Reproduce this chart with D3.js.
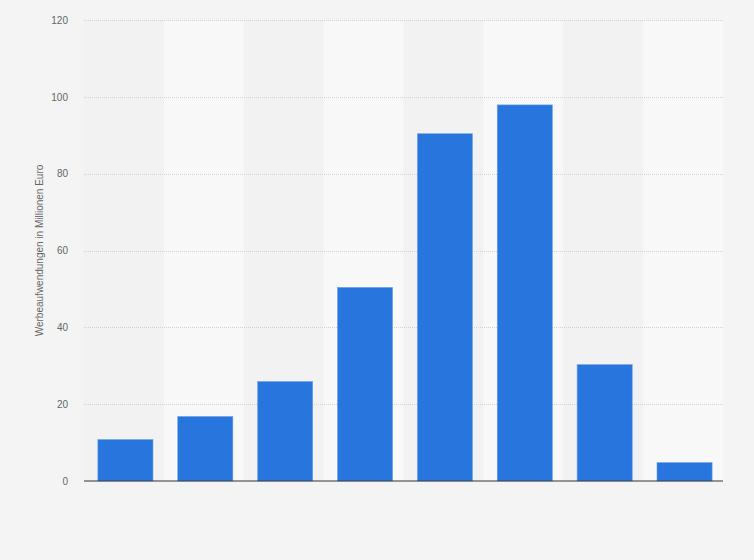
<!DOCTYPE html>
<html>
<head>
<meta charset="utf-8">
<script src="https://cdn.jsdelivr.net/npm/d3@7"></script>
<style>
  html, body { margin: 0; padding: 0; background: #f4f4f4; }
  svg { display: block; font-family: "Liberation Sans", Arial, sans-serif; }
</style>
</head>
<body>
<svg id="chart" width="754" height="560"></svg>
<script>
// one value per bar (Millionen Euro)
const categories = ['1', '2', '3', '4', '5', '6', '7', '8']
const values = [10.8, 16.8, 25.9, 50.4, 90.4, 97.9, 30.3, 4.8]
const yTicks = [0, 20, 40, 60, 80, 100, 120]
const yTitle = 'Werbeaufwendungen in Millionen Euro'

const width = 754
const height = 560
const margin = { top: 20, right: 31, bottom: 79, left: 84 }

const svg = d3.select('#chart')

svg.append('rect')
  .attr('width', width)
  .attr('height', height)
  .attr('fill', '#f4f4f4')

const x = d3.scaleBand()
  .domain(categories)
  .range([margin.left, width - margin.right])
  .paddingInner(0.31)
  .paddingOuter(0.155)
  .align(0.56)

const stripes = d3.scaleBand()
  .domain(categories)
  .range([margin.left, width - margin.right])

const y = d3.scaleLinear()
  .domain([0, 120])
  .range([height - margin.bottom, margin.top])

// alternating column stripes
svg.append('g')
  .selectAll('rect')
  .data(categories)
  .enter().append('rect')
  .attr('x', d => stripes(d))
  .attr('y', y(120))
  .attr('width', stripes.bandwidth())
  .attr('height', y(0) - y(120))
  .attr('fill', (d, i) => i % 2 ? '#f8f8f8' : '#f2f2f2')

// tick labels
const yAxis = d3.axisLeft(y)
  .tickValues(yTicks)
  .tickSize(0)
  .tickPadding(16)

const gy = svg.append('g')
  .attr('transform', `translate(${margin.left},0)`)
  .call(yAxis)

gy.select('.domain').remove()
gy.selectAll('text')
  .attr('fill', '#666')
  .attr('font-size', 10)

// grid lines
svg.append('g')
  .selectAll('line')
  .data(yTicks.filter(d => d > 0))
  .enter().append('line')
  .attr('x1', margin.left)
  .attr('x2', width - margin.right)
  .attr('y1', d => Math.round(y(d)) + 0.5)
  .attr('y2', d => Math.round(y(d)) + 0.5)
  .attr('stroke', '#d2d2d2')
  .attr('stroke-dasharray', '1,1')

// bars
svg.append('g')
  .selectAll('rect')
  .data(values)
  .enter().append('rect')
  .attr('x', (d, i) => x(categories[i]))
  .attr('y', d => y(d))
  .attr('width', x.bandwidth())
  .attr('height', d => y(0) - y(d))
  .attr('fill', '#2876dd')
  .attr('stroke', '#6fa3ea')
  .attr('stroke-width', 0.6)

// zero line
svg.append('line')
  .attr('x1', margin.left)
  .attr('x2', width - margin.right)
  .attr('y1', y(0))
  .attr('y2', y(0))
  .attr('stroke', '#333')
  .attr('stroke-width', 1.2)

svg.append('text')
  .attr('transform', `translate(43,${(y(0) + y(120)) / 2}) rotate(-90)`)
  .attr('text-anchor', 'middle')
  .attr('fill', '#666')
  .attr('font-size', 10)
  .text(yTitle)
</script>
</body>
</html>
